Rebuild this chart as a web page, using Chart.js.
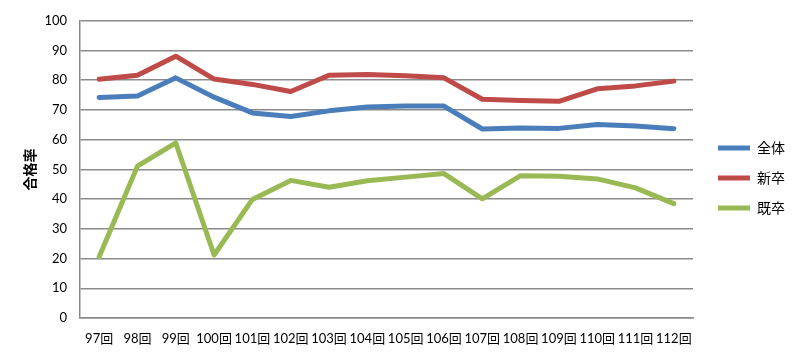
<!DOCTYPE html>
<html><head><meta charset="utf-8">
<script src="https://cdn.jsdelivr.net/npm/chart.js@4"></script>
<style>html,body{margin:0;padding:0;background:#fff}#wrap{width:800px;height:356px}</style>
</head><body><div id="wrap"><canvas id="c"></canvas></div>
<script>
const categories = ['97回','98回','99回','100回','101回','102回','103回','104回','105回','106回','107回','108回','109回','110回','111回','112回'];
const zentai = [74.2, 74.7, 80.8, 74.3, 69.0, 67.8, 69.7, 71.0, 71.3, 71.3, 63.6, 63.9, 63.8, 65.1, 64.6, 63.7];
const shinsotsu = [80.3, 81.7, 88.1, 80.4, 78.6, 76.2, 81.7, 81.9, 81.5, 80.8, 73.6, 73.2, 72.9, 77.1, 78.1, 79.7];
const kisotsu = [20.6, 51.1, 58.9, 21.2, 39.9, 46.3, 44.0, 46.2, 47.4, 48.6, 40.1, 47.9, 47.7, 46.8, 43.8, 38.5];
const yTicks = [0,10,20,30,40,50,60,70,80,90,100];
const seriesNames = ['全体','新卒','既卒'];
const FONT = 'Lato, "Noto Sans CJK JP", sans-serif';

function ds(label, data, color){
  return {label, data, borderColor: color, backgroundColor: color, borderWidth: 5,
    pointRadius: 0, pointHoverRadius: 0, tension: 0, fill: false,
    borderCapStyle: 'round', borderJoinStyle: 'round'};
}
const legendShift = {
  id: 'legendShift',
  beforeDraw(chart){
    const lg = chart.legend;
    if (lg && !lg._shifted){
      lg.top -= 9; lg.bottom -= 9; lg.left += 9; lg.right += 9;
      lg._shifted = true;
    }
  }
};
new Chart(document.getElementById('c'), {
  type: 'line',
  data: { labels: categories, datasets: [
    ds(seriesNames[0], zentai, '#4A7EBB'),
    ds(seriesNames[1], shinsotsu, '#BE4B48'),
    ds(seriesNames[2], kisotsu, '#98B954')
  ]},
  options: {
    responsive: true, maintainAspectRatio: false, animation: false,
    layout: { padding: { top: 18, right: 14, left: 0, bottom: 0 } },
    plugins: {
      tooltip: { enabled: false },
      legend: { position: 'right', align: 'center',
        labels: { usePointStyle: true, pointStyle: 'line', pointStyleWidth: 32,
          color: '#000', font: { family: FONT, size: 14 }, padding: 16 } }
    },
    scales: {
      x: { offset: true,
        grid: { display: false, drawTicks: false },
        border: { display: true, color: '#8a8a8a', width: 1.5 },
        ticks: { autoSkip: false, maxRotation: 0, minRotation: 0, padding: 13, color: '#000',
          font: { family: FONT, size: 13 } },
        afterFit(s){ s.height = 38; }
      },
      y: { min: 0, max: 100,
        afterBuildTicks(s){ s.ticks = yTicks.map(v => ({value: v})); },
        grid: { color: '#8a8a8a', lineWidth: 1.5, drawTicks: false },
        border: { display: true, color: '#8a8a8a', width: 1.5 },
        ticks: { padding: 13, color: '#000', font: { family: FONT, size: 13 } },
        title: { display: true, text: '合格率', color: '#000', padding: { top: 22, bottom: 10 },
          font: { family: FONT, size: 14, weight: 'bold' } },
        afterFit(s){ s.width = 80; }
      }
    }
  },
  plugins: [legendShift]
});
</script></body></html>
